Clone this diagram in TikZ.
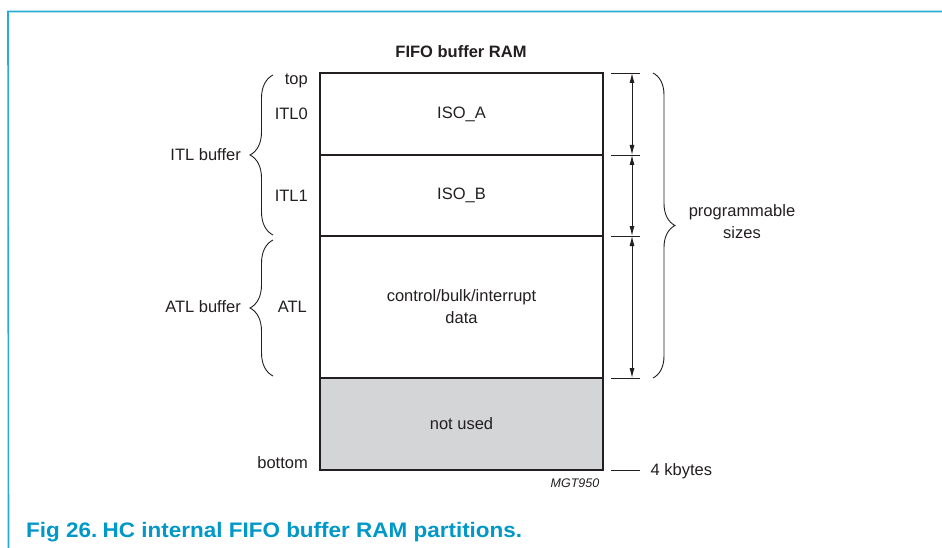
\documentclass[tikz,border=0pt]{standalone}
\usepackage{fontspec}
\setmainfont{Liberation Sans}
\usetikzlibrary{decorations.pathreplacing,arrows.meta}
\definecolor{framec}{RGB}{40,170,212}
\definecolor{capc}{RGB}{0,152,200}
\definecolor{unused}{RGB}{212,213,215}
\definecolor{ink}{RGB}{35,31,32}
\begin{document}
\begin{tikzpicture}[x=1pt,y=-1pt,
  lbl/.style={font=\fontsize{16.5}{22}\selectfont, text=ink, inner sep=0pt},
  box/.style={draw=ink, line width=1.2pt, minimum width=283pt, font=\fontsize{16.5}{22}\selectfont, text=ink, align=center},
  tickl/.style={draw=ink, line width=0.9pt},
  dimarrow/.style={draw=ink, line width=0.9pt, {Latex[length=10pt,width=5pt]}-{Latex[length=10pt,width=5pt]}},
  brc/.style={draw=ink, line width=0.9pt, decorate, decoration={brace, amplitude=#1}}
]
\useasboundingbox (0,0) rectangle (942,548);
% frame
\coordinate (f0) at (8,11.5);
\coordinate (f1) at (942,11.5);
\coordinate (f2) at (8.5,548);
\draw[framec, line width=1.6pt] (f2) -- (f0 |- f1) -- (f1);
% title
\node[lbl, font=\bfseries\fontsize{16.5}{20}\selectfont, anchor=base] (title) at (461,58) {FIFO buffer RAM};
% partitions
\node[box, minimum height=82pt] (isoa) at (461.5,114) {ISO\_A};
\node[box, minimum height=81pt] (isob) at (461.5,195.5) {ISO\_B};
\node[box, minimum height=142pt] (atl) at (461.5,307) {control/bulk/interrupt\\data};
\node[box, minimum height=92pt, fill=unused] (nu) at (461.5,424) {not used};
% left labels
\node[lbl, anchor=base east] (ltop) at (308,85) {top};
\node[lbl, anchor=base east] (litl0) at (308,120) {ITL0};
\node[lbl, anchor=base east] (litl1) at (308,201) {ITL1};
\node[lbl, anchor=base east] (latl) at (307,312) {ATL};
\node[lbl, anchor=base east] (lbot) at (308,468) {bottom};
\node[lbl, anchor=base east] (litlb) at (241,161) {ITL buffer};
\node[lbl, anchor=base east] (latlb) at (241,312) {ATL buffer};
% left braces
\coordinate (b1s) at (273,235);
\coordinate (b1e) at (273,75);
\coordinate (b2s) at (273,376);
\coordinate (b2e) at (273,240);
\draw[brc=23pt] (b1s) -- (b1e);
\draw[brc=23pt] (b2s) -- (b2e);
% right ticks
\foreach \n/\y in {0/73,1/155,2/236,3/378,4/470}{
  \coordinate (ta\n) at (611,\y);
  \coordinate (tb\n) at (640,\y);
  \coordinate (ar\n) at (632,\y);
  \draw[tickl] (ta\n) -- (tb\n);
}
\draw[dimarrow] (ar0) -- (ar1);
\draw[dimarrow] (ar1) -- (ar2);
\draw[dimarrow] (ar2) -- (ar3);
% right brace
\coordinate (rbs) at (653,73);
\coordinate (rbe) at (653,378);
\draw[brc=22pt] (rbs) -- (rbe);
\node[lbl, anchor=base] (prog) at (742,217) {programmable};
\node[lbl, anchor=base] (sizes) at (742,238.5) {sizes};
\node[lbl, anchor=base west] (kb) at (650.5,475) {4 kbytes};
\node[lbl, font=\itshape\fontsize{12.5}{15}\selectfont, anchor=base] (mgt) at (575,487) {MGT950};
% caption
\node[inner sep=0pt, text=capc, font=\bfseries\fontsize{21}{24}\selectfont, anchor=base west, xscale=1.07] (cap) at (26,537) {Fig 26.\hspace{5pt}HC internal FIFO buffer RAM partitions.};
\end{tikzpicture}
\end{document}
